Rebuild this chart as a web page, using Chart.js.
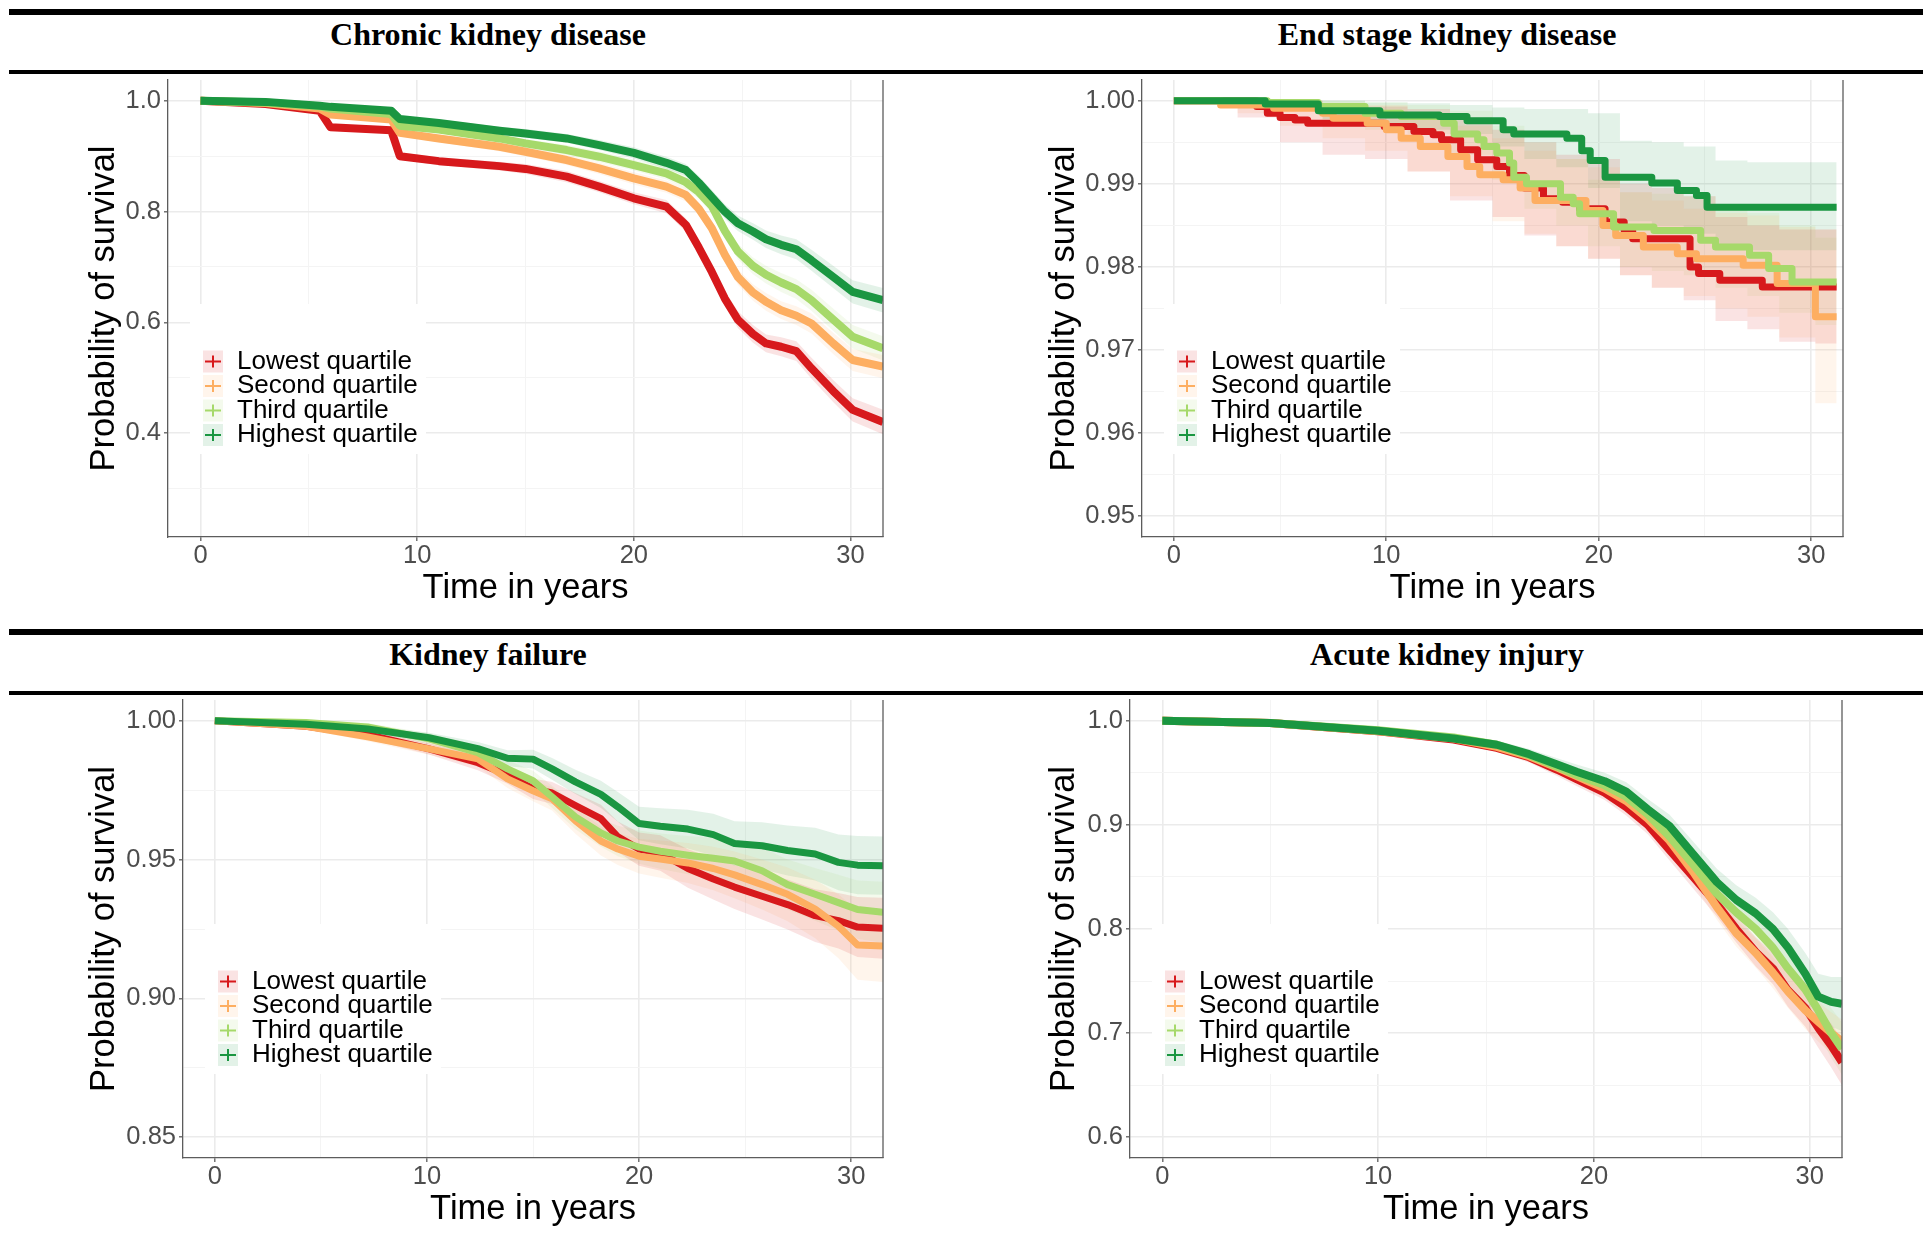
<!DOCTYPE html>
<html>
<head>
<meta charset="utf-8">
<title>Survival by quartile</title>
<script src="https://cdn.jsdelivr.net/npm/chart.js@4.4.1/dist/chart.umd.min.js"></script>
<style>
  html, body { margin: 0; padding: 0; background: #fff; }
  body { position: relative; width: 1923px; height: 1248px; overflow: hidden; }
  .rule { position: absolute; left: 9px; width: 1914px; background: #000; }
  .panel-title {
    position: absolute;
    font-family: "Liberation Serif", "Times New Roman", serif;
    font-weight: bold;
    font-size: 32px;
    line-height: 1;
    color: #000;
    white-space: nowrap;
    transform: translateX(-50%);
  }
  canvas { position: absolute; }
</style>
</head>
<body>
<div class="rule" style="top:9px;height:6px"></div>
<div class="rule" style="top:70px;height:4px"></div>
<div class="rule" style="top:629px;height:6px"></div>
<div class="rule" style="top:691px;height:4px"></div>

<div class="panel-title" style="left:488px;top:18px">Chronic kidney disease</div>
<div class="panel-title" style="left:1447px;top:18px">End stage kidney disease</div>
<div class="panel-title" style="left:488px;top:638px">Kidney failure</div>
<div class="panel-title" style="left:1447px;top:638px">Acute kidney injury</div>

<canvas id="ckd" width="960" height="545" style="left:0px;top:75px"></canvas>
<canvas id="eskd" width="963" height="545" style="left:960px;top:75px"></canvas>
<canvas id="kf" width="960" height="553" style="left:0px;top:695px"></canvas>
<canvas id="aki" width="963" height="553" style="left:960px;top:695px"></canvas>

<script>
// ---- shared ----
const groupNames = ["Lowest quartile", "Second quartile", "Third quartile", "Highest quartile"];
const lineColours = ["#D7191C", "#FDAE61", "#A6D96A", "#1A9641"];
const xMajor = [0, 10, 20, 30];
const xMinor = [5, 15, 25];
const xLabels = ["0", "10", "20", "30"];

// ---- Chronic kidney disease ----
const ckdTime = [0, 3, 5.5, 6, 8.8, 9.2, 11, 13.8, 15, 16.9, 18.4, 20, 21.5, 22.4, 23, 23.6, 24.2, 24.8, 25.5, 26.1, 26.8, 27.5, 28.2, 29.2, 30.1, 31.5];
const ckdLowest = [1.0, 0.994, 0.982, 0.952, 0.947, 0.9, 0.891, 0.882, 0.877, 0.863, 0.845, 0.824, 0.809, 0.776, 0.735, 0.691, 0.643, 0.605, 0.579, 0.562, 0.556, 0.548, 0.517, 0.476, 0.442, 0.42];
const ckdSecond = [1.0, 0.996, 0.986, 0.975, 0.966, 0.942, 0.932, 0.917, 0.908, 0.893, 0.878, 0.86, 0.845, 0.83, 0.805, 0.77, 0.722, 0.682, 0.654, 0.637, 0.622, 0.612, 0.598, 0.562, 0.532, 0.52];
const ckdThird = [1.0, 0.997, 0.99, 0.986, 0.976, 0.955, 0.948, 0.932, 0.923, 0.911, 0.899, 0.884, 0.869, 0.853, 0.835, 0.81, 0.765, 0.728, 0.702, 0.686, 0.672, 0.66, 0.64, 0.605, 0.574, 0.553];
const ckdHighest = [1.0, 0.998, 0.991, 0.989, 0.982, 0.967, 0.96, 0.946, 0.941, 0.932, 0.92, 0.906, 0.888, 0.875, 0.852, 0.826, 0.8, 0.779, 0.764, 0.75, 0.74, 0.732, 0.712, 0.682, 0.655, 0.64];
// half widths of the confidence bands
const ckdLowestCI = [0, 0.003, 0.005, 0.006, 0.006, 0.007, 0.007, 0.008, 0.009, 0.01, 0.01, 0.011, 0.012, 0.012, 0.013, 0.013, 0.014, 0.015, 0.016, 0.016, 0.017, 0.018, 0.019, 0.02, 0.021, 0.022];
const ckdSecondCI = [0, 0.003, 0.004, 0.005, 0.005, 0.006, 0.007, 0.008, 0.008, 0.009, 0.01, 0.011, 0.011, 0.012, 0.012, 0.013, 0.014, 0.014, 0.015, 0.016, 0.016, 0.017, 0.018, 0.019, 0.02, 0.021];
const ckdThirdCI = [0, 0.002, 0.004, 0.005, 0.005, 0.006, 0.006, 0.007, 0.008, 0.009, 0.01, 0.01, 0.011, 0.012, 0.012, 0.013, 0.014, 0.014, 0.015, 0.016, 0.017, 0.018, 0.019, 0.02, 0.021, 0.022];
const ckdHighestCI = [0, 0.002, 0.004, 0.004, 0.005, 0.006, 0.006, 0.007, 0.008, 0.008, 0.009, 0.01, 0.011, 0.011, 0.012, 0.013, 0.013, 0.014, 0.015, 0.016, 0.017, 0.018, 0.019, 0.02, 0.021, 0.022];
const ckdYMajor = [0.4, 0.6, 0.8, 1.0];
const ckdYMinor = [0.3, 0.5, 0.7, 0.9];
const ckdYLabels = ["0.4", "0.6", "0.8", "1.0"];

// ---- End stage kidney disease (step curves) ----
const eskdLowestT = [0, 3.9, 4.4, 5.0, 5.7, 6.3, 9.9, 11.3, 12.2, 12.6, 13.5, 14.3, 15.2, 15.8, 16.5, 17.4, 18.3, 19.1, 20.3, 21.2, 21.6, 24.3, 24.7, 25.7, 27.7, 31.2];
const eskdLowestS = [1.0, 0.9993, 0.9985, 0.998, 0.9977, 0.9973, 0.9969, 0.9963, 0.9959, 0.9953, 0.9941, 0.9929, 0.9921, 0.991, 0.9895, 0.9882, 0.9878, 0.987, 0.9854, 0.9844, 0.9834, 0.98, 0.9792, 0.9784, 0.9776, 0.9776];
const eskdSecondT = [0, 2.2, 4.7, 7.0, 7.5, 9.1, 10.0, 10.7, 11.6, 12.9, 13.8, 14.4, 15.5, 16.3, 17.0, 19.4, 20.2, 20.8, 22.1, 23.7, 24.6, 26.8, 28.4, 30.2, 31.2];
const eskdSecondS = [1.0, 0.9995, 0.9991, 0.9985, 0.9979, 0.9973, 0.9965, 0.9955, 0.9945, 0.9933, 0.9921, 0.9911, 0.9905, 0.9895, 0.988, 0.9868, 0.985, 0.9838, 0.9824, 0.9816, 0.981, 0.9802, 0.978, 0.974, 0.974];
const eskdThirdT = [0, 4.4, 6.8, 9.0, 10.7, 12.7, 13.2, 14.3, 14.6, 15.2, 15.8, 16.0, 16.6, 18.2, 18.8, 19.1, 20.7, 22.6, 24.8, 25.5, 27.1, 28.0, 29.1, 31.2];
const eskdThirdS = [1.0, 0.9998, 0.9993, 0.9985, 0.9981, 0.9973, 0.996, 0.9953, 0.9945, 0.9937, 0.9925, 0.9908, 0.99, 0.9884, 0.9876, 0.9864, 0.9848, 0.9844, 0.9832, 0.9824, 0.9814, 0.9798, 0.9782, 0.9782];
const eskdHighestT = [0, 4.3, 6.8, 9.7, 12.5, 13.8, 15.5, 16.0, 18.5, 19.2, 19.6, 20.3, 22.5, 23.7, 24.6, 25.1, 31.2];
const eskdHighestS = [1.0, 0.9996, 0.9988, 0.9983, 0.9981, 0.9976, 0.9965, 0.996, 0.9955, 0.994, 0.9928, 0.9908, 0.9901, 0.9892, 0.9886, 0.9872, 0.9872];
const eskdBandT = [0, 3, 5, 7, 9, 11, 13, 15, 16.5, 18, 19.5, 21, 22.5, 24, 25.5, 27, 28.5, 30.2, 31.2];
const eskdLowestLo = [1, 0.998, 0.995, 0.9935, 0.993, 0.9915, 0.988, 0.986, 0.9838, 0.9825, 0.981, 0.979, 0.9775, 0.976, 0.9735, 0.9725, 0.971, 0.9708, 0.9708];
const eskdLowestHi = [1, 1, 1, 0.9995, 0.9993, 0.999, 0.998, 0.9965, 0.995, 0.9935, 0.993, 0.99, 0.9895, 0.9885, 0.986, 0.985, 0.9845, 0.9845, 0.9845];
const eskdSecondLo = [1, 0.9985, 0.997, 0.9955, 0.994, 0.9915, 0.9885, 0.9855, 0.984, 0.9825, 0.981, 0.979, 0.9775, 0.9765, 0.975, 0.974, 0.9715, 0.9636, 0.9636];
const eskdSecondHi = [1, 1, 1, 0.9998, 0.9995, 0.9985, 0.997, 0.9955, 0.994, 0.993, 0.992, 0.989, 0.988, 0.987, 0.9865, 0.9862, 0.9848, 0.9845, 0.9845];
const eskdThirdLo = [1, 0.9995, 0.999, 0.9975, 0.9965, 0.996, 0.9935, 0.9905, 0.987, 0.985, 0.9825, 0.98, 0.9795, 0.979, 0.9775, 0.9765, 0.9745, 0.973, 0.973];
const eskdThirdHi = [1, 1, 1, 1, 0.9998, 0.9995, 0.9988, 0.997, 0.995, 0.993, 0.9905, 0.989, 0.9888, 0.9885, 0.9875, 0.9865, 0.985, 0.9835, 0.9835];
const eskdHighestLo = [1, 0.9995, 0.999, 0.9978, 0.997, 0.9965, 0.996, 0.9945, 0.993, 0.992, 0.9895, 0.9855, 0.985, 0.984, 0.982, 0.982, 0.982, 0.982, 0.982];
const eskdHighestHi = [1, 1, 1, 1, 0.9998, 0.9997, 0.9995, 0.9992, 0.999, 0.999, 0.9985, 0.9952, 0.995, 0.9945, 0.9928, 0.9926, 0.9926, 0.9926, 0.9926];
const eskdYMajor = [0.95, 0.96, 0.97, 0.98, 0.99, 1.0];
const eskdYMinor = [0.955, 0.965, 0.975, 0.985, 0.995];
const eskdYLabels = ["0.95", "0.96", "0.97", "0.98", "0.99", "1.00"];

// ---- Kidney failure ----
const kfTime = [0, 4.3, 7.2, 10.1, 12.4, 13.8, 15, 15.9, 17, 18.2, 19, 20, 21, 22.3, 23.5, 24.5, 25.8, 27, 28.3, 29.4, 30.3, 31.5];
const kfLowest = [1, 0.998, 0.995, 0.9899, 0.9849, 0.9805, 0.9755, 0.974, 0.9695, 0.9648, 0.9582, 0.9538, 0.9524, 0.9468, 0.943, 0.9401, 0.9368, 0.9338, 0.9298, 0.928, 0.9257, 0.9253];
const kfSecond = [1, 0.998, 0.9942, 0.9899, 0.9863, 0.9791, 0.9748, 0.9719, 0.964, 0.9567, 0.9538, 0.9512, 0.9502, 0.9488, 0.9468, 0.9445, 0.941, 0.9375, 0.9322, 0.926, 0.9192, 0.9189];
const kfThird = [1, 0.9994, 0.9978, 0.9935, 0.9885, 0.9827, 0.9784, 0.9726, 0.9654, 0.9596, 0.9567, 0.9545, 0.953, 0.9516, 0.9505, 0.9495, 0.946, 0.941, 0.9375, 0.9345, 0.932, 0.931];
const kfHighest = [1, 0.9988, 0.9971, 0.9939, 0.99, 0.9865, 0.9862, 0.9827, 0.978, 0.9735, 0.969, 0.963, 0.962, 0.961, 0.959, 0.9558, 0.955, 0.9533, 0.952, 0.949, 0.948, 0.9478];
const kfLowestCI = [0, 0.001, 0.0015, 0.002, 0.0027, 0.0032, 0.0037, 0.004, 0.0045, 0.005, 0.0055, 0.006, 0.0064, 0.0069, 0.0074, 0.0079, 0.0084, 0.009, 0.0095, 0.01, 0.0108, 0.011];
const kfSecondCI = [0, 0.001, 0.0016, 0.0021, 0.0028, 0.0033, 0.0038, 0.0042, 0.0047, 0.0052, 0.0057, 0.0062, 0.0067, 0.0072, 0.0078, 0.0084, 0.009, 0.0097, 0.0105, 0.0115, 0.0125, 0.013];
const kfThirdCI = [0, 0.0008, 0.0014, 0.002, 0.0026, 0.0031, 0.0036, 0.004, 0.0045, 0.005, 0.0055, 0.006, 0.0064, 0.0069, 0.0074, 0.0079, 0.0084, 0.009, 0.0095, 0.01, 0.0105, 0.011];
const kfHighestCI = [0, 0.0008, 0.0013, 0.0018, 0.0024, 0.0029, 0.0034, 0.0039, 0.0044, 0.0049, 0.0054, 0.006, 0.0065, 0.007, 0.0075, 0.008, 0.0085, 0.009, 0.0095, 0.01, 0.0105, 0.0105];
const kfYMajor = [0.85, 0.9, 0.95, 1.0];
const kfYMinor = [0.875, 0.925, 0.975];
const kfYLabels = ["0.85", "0.90", "0.95", "1.00"];

// ---- Acute kidney injury ----
const akiTime = [0, 5, 10, 13.5, 15.5, 17, 18.3, 19.2, 20.5, 21.5, 22.5, 23.5, 24.6, 25.7, 26.6, 27.5, 28.3, 29, 29.8, 30.4, 31, 31.5];
const akiLowest = [1, 0.998, 0.99, 0.982, 0.974, 0.965, 0.953, 0.944, 0.931, 0.917, 0.9, 0.876, 0.85, 0.824, 0.8, 0.778, 0.762, 0.741, 0.724, 0.705, 0.688, 0.672];
const akiSecond = [1, 0.998, 0.99, 0.983, 0.975, 0.966, 0.955, 0.947, 0.935, 0.923, 0.906, 0.885, 0.855, 0.821, 0.796, 0.777, 0.758, 0.74, 0.722, 0.711, 0.7, 0.692];
const akiThird = [1, 0.998, 0.991, 0.984, 0.977, 0.967, 0.956, 0.948, 0.938, 0.927, 0.91, 0.889, 0.862, 0.834, 0.816, 0.8, 0.782, 0.762, 0.742, 0.722, 0.7, 0.685];
const akiHighest = [1, 0.998, 0.9905, 0.983, 0.977, 0.968, 0.958, 0.951, 0.942, 0.932, 0.915, 0.899, 0.872, 0.845, 0.828, 0.815, 0.8, 0.782, 0.757, 0.735, 0.73, 0.728];
const akiLowestCI = [0, 0.001, 0.002, 0.003, 0.004, 0.005, 0.006, 0.0065, 0.007, 0.008, 0.009, 0.01, 0.011, 0.012, 0.013, 0.014, 0.015, 0.016, 0.018, 0.019, 0.021, 0.022];
const akiSecondCI = [0, 0.001, 0.002, 0.003, 0.004, 0.005, 0.006, 0.0065, 0.007, 0.008, 0.009, 0.01, 0.011, 0.012, 0.013, 0.014, 0.015, 0.016, 0.018, 0.019, 0.02, 0.021];
const akiThirdCI = [0, 0.001, 0.002, 0.003, 0.004, 0.005, 0.006, 0.007, 0.008, 0.009, 0.01, 0.011, 0.012, 0.013, 0.014, 0.015, 0.016, 0.018, 0.02, 0.022, 0.024, 0.025];
const akiHighestCI = [0, 0.001, 0.002, 0.003, 0.004, 0.005, 0.006, 0.007, 0.008, 0.009, 0.01, 0.011, 0.012, 0.013, 0.014, 0.015, 0.016, 0.018, 0.02, 0.022, 0.024, 0.026];
const akiYMajor = [0.6, 0.7, 0.8, 0.9, 1.0];
const akiYMinor = [0.65, 0.75, 0.85, 0.95];
const akiYLabels = ["0.6", "0.7", "0.8", "0.9", "1.0"];

// ---- helpers ----
Chart.defaults.font.family = '"Liberation Sans", Arial, sans-serif';

function fade(hex, a) {
  const n = parseInt(hex.slice(1), 16);
  return `rgba(${n >> 16},${(n >> 8) & 255},${n & 255},${a})`;
}

// estimate +/- half width -> band edge
function shift(values, ci, sign) {
  return values.map((v, k) => Math.min(1, v + sign * ci[k]));
}

function tickList(majors, minors) {
  return majors.map(v => ({ value: v }))
    .concat(minors.map(v => ({ value: v, minor: true })))
    .sort((a, b) => a.value - b.value);
}

function labelFor(values, labels) {
  return (v) => {
    const i = values.findIndex(m => Math.abs(m - v) < 1e-9);
    return i < 0 ? "" : labels[i];
  };
}

const gridOpts = {
  color: c => (c.tick && c.tick.minor ? "#F4F4F4" : "#EBEBEB"),
  lineWidth: c => (c.tick && c.tick.minor ? 1 : 1.6),
  tickColor: c => (c.tick && c.tick.minor ? "rgba(0,0,0,0)" : "#5c5c5c"),
  tickWidth: 1.3,
  tickLength: 4
};

// legend drawn inside the plot, lower left, on a white patch
const insideLegend = {
  id: "insideLegend",
  beforeDatasetsDraw(chart) {
    const { ctx, chartArea: a } = chart;
    ctx.save();
    ctx.fillStyle = "#fff";
    ctx.fillRect(a.left + 22, a.top + 224, 236, 150);
    ctx.font = '26px "Liberation Sans", Arial, sans-serif';
    ctx.textBaseline = "middle";
    groupNames.forEach((name, i) => {
      const cy = a.top + 281.5 + i * 24.5;
      ctx.fillStyle = fade(lineColours[i], 0.12);
      ctx.fillRect(a.left + 35, cy - 11, 20, 22);
      ctx.strokeStyle = lineColours[i];
      ctx.lineWidth = 2;
      ctx.beginPath();
      ctx.moveTo(a.left + 37, cy);
      ctx.lineTo(a.left + 53, cy);
      ctx.moveTo(a.left + 45, cy - 6);
      ctx.lineTo(a.left + 45, cy + 6);
      ctx.stroke();
      ctx.fillStyle = "#000";
      ctx.fillText(name, a.left + 69, cy);
    });
    ctx.restore();
  }
};

// right side frame line
const rightFrame = {
  id: "rightFrame",
  afterDatasetsDraw(chart) {
    const { ctx, chartArea: a } = chart;
    ctx.save();
    ctx.strokeStyle = "#5c5c5c";
    ctx.lineWidth = 1.3;
    ctx.beginPath();
    ctx.moveTo(a.right, a.top);
    ctx.lineTo(a.right, a.bottom);
    ctx.stroke();
    ctx.restore();
  }
};

function buildDatasets(p) {
  const sets = [];
  p.series.forEach((s, i) => {
    sets.push({
      data: s.bandT.map((t, k) => ({ x: t, y: s.hi[k] })),
      borderWidth: 0, borderColor: "rgba(0,0,0,0)", pointRadius: 0,
      fill: "+1", backgroundColor: fade(lineColours[i], 0.12),
      stepped: p.stepped, order: 10 + i, clip: 0
    });
    sets.push({
      data: s.bandT.map((t, k) => ({ x: t, y: s.lo[k] })),
      borderWidth: 0, borderColor: "rgba(0,0,0,0)", pointRadius: 0,
      fill: false, stepped: p.stepped, order: 10 + i, clip: 0
    });
  });
  p.series.forEach((s, i) => {
    sets.push({
      label: groupNames[i],
      data: s.t.map((t, k) => ({ x: t, y: s.s[k] })),
      borderColor: lineColours[i], borderWidth: p.lineWidth, pointRadius: 0,
      fill: false, stepped: p.stepped, order: 4 - i, clip: 0,
      borderJoinStyle: "round"
    });
  });
  return sets;
}

function smoothSeries(time, vals, cis) {
  return vals.map((v, i) => ({
    t: time, s: v, bandT: time, lo: shift(v, cis[i], -1), hi: shift(v, cis[i], 1)
  }));
}

const panels = [
  {
    id: "ckd", W: 960, H: 545, left: 168, right: 883, top: 5, bottom: 462,
    yMin: 0.2125, yMax: 1.0375, yMajor: ckdYMajor, yMinor: ckdYMinor, yLabels: ckdYLabels,
    stepped: false, lineWidth: 8,
    series: smoothSeries(ckdTime, [ckdLowest, ckdSecond, ckdThird, ckdHighest],
      [ckdLowestCI, ckdSecondCI, ckdThirdCI, ckdHighestCI])
  },
  {
    id: "eskd", W: 963, H: 545, left: 182, right: 883, top: 5, bottom: 462,
    yMin: 0.9475, yMax: 1.0025, yMajor: eskdYMajor, yMinor: eskdYMinor, yLabels: eskdYLabels,
    stepped: true, lineWidth: 7,
    series: [
      { t: eskdLowestT, s: eskdLowestS, bandT: eskdBandT, lo: eskdLowestLo, hi: eskdLowestHi },
      { t: eskdSecondT, s: eskdSecondS, bandT: eskdBandT, lo: eskdSecondLo, hi: eskdSecondHi },
      { t: eskdThirdT, s: eskdThirdS, bandT: eskdBandT, lo: eskdThirdLo, hi: eskdThirdHi },
      { t: eskdHighestT, s: eskdHighestS, bandT: eskdBandT, lo: eskdHighestLo, hi: eskdHighestHi }
    ]
  },
  {
    id: "kf", W: 960, H: 553, left: 183, right: 883, top: 5, bottom: 463,
    yMin: 0.8425, yMax: 1.0075, yMajor: kfYMajor, yMinor: kfYMinor, yLabels: kfYLabels,
    stepped: false, lineWidth: 7,
    series: smoothSeries(kfTime, [kfLowest, kfSecond, kfThird, kfHighest],
      [kfLowestCI, kfSecondCI, kfThirdCI, kfHighestCI])
  },
  {
    id: "aki", W: 963, H: 553, left: 170, right: 882, top: 5, bottom: 463,
    yMin: 0.58, yMax: 1.02, yMajor: akiYMajor, yMinor: akiYMinor, yLabels: akiYLabels,
    stepped: false, lineWidth: 8,
    series: smoothSeries(akiTime, [akiLowest, akiSecond, akiThird, akiHighest],
      [akiLowestCI, akiSecondCI, akiThirdCI, akiHighestCI])
  }
];

const titleSize = 34.5;
const titleHalfLine = titleSize * 1.2 / 2;

panels.forEach(p => {
  new Chart(document.getElementById(p.id), {
    type: "line",
    data: { datasets: buildDatasets(p) },
    options: {
      responsive: false,
      animation: false,
      devicePixelRatio: 1,
      layout: { padding: { left: 0, top: p.top, right: p.W - p.right, bottom: 0 } },
      plugins: { legend: { display: false }, tooltip: { enabled: false } },
      scales: {
        x: {
          type: "linear", min: -1.5, max: 31.5,
          afterBuildTicks: s => { s.ticks = tickList(xMajor, xMinor); },
          afterFit: s => { s.height = p.H - p.bottom; s.paddingLeft = 0; s.paddingRight = 0; },
          ticks: { autoSkip: false, maxRotation: 0, color: "#4D4D4D", font: { size: 25.5 }, padding: 0,
                   callback: labelFor(xMajor, xLabels) },
          grid: gridOpts,
          border: { display: true, color: "#5c5c5c", width: 1.3 },
          title: { display: true, text: "Time in years", color: "#000", font: { size: titleSize },
                   padding: { top: 0, bottom: p.H - titleHalfLine - (p.bottom + 51) } }
        },
        y: {
          type: "linear", min: p.yMin, max: p.yMax,
          afterBuildTicks: s => { s.ticks = tickList(p.yMajor, p.yMinor); },
          afterFit: s => { s.width = p.left; s.paddingTop = 0; s.paddingBottom = 0; },
          ticks: { autoSkip: false, color: "#4D4D4D", font: { size: 25.5 }, padding: 3,
                   callback: labelFor(p.yMajor, p.yLabels) },
          grid: gridOpts,
          border: { display: true, color: "#5c5c5c", width: 1.3 },
          title: { display: true, text: "Probability of survival", color: "#000", font: { size: titleSize },
                   padding: { top: 104 - titleHalfLine, bottom: 0 } }
        }
      }
    },
    plugins: [insideLegend, rightFrame]
  });
});
</script>
</body>
</html>
